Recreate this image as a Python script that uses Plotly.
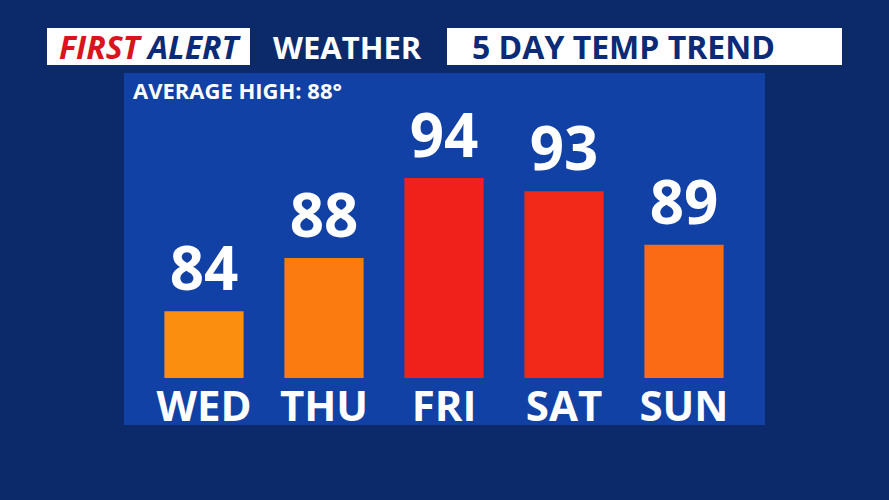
import plotly.graph_objects as go

days = ["WED", "THU", "FRI", "SAT", "SUN"]
highs = [84, 88, 94, 93, 89]
bar_colors = ["#fb8e0f", "#fb7b10", "#f0201a", "#f22818", "#fb6a15"]

W, H = 889, 500
X0, X1 = 144, 744      # plot area in pixels
YT, YB = 98, 378


def px(x):
    return (x - X0) / (X1 - X0)


def py(y):
    return (YB - y) / (YB - YT)


fig = go.Figure(go.Bar(
    x=days, y=highs, width=0.66,
    marker=dict(color=bar_colors, line=dict(width=0)),
    text=[str(v) for v in highs], textposition="outside",
    textfont=dict(family="Open Sans", size=60, color="white"),
    texttemplate="<b>%{text}</b>", cliponaxis=False,
))

shapes = [
    # blue panel
    dict(type="rect", x0=px(124), x1=px(765), y0=py(425), y1=py(73),
         fillcolor="#1241a6", line_width=0, layer="below"),
    # header boxes
    dict(type="rect", x0=px(47), x1=px(250), y0=py(65), y1=py(28),
         fillcolor="white", line_width=0),
    dict(type="rect", x0=px(447), x1=px(842), y0=py(65), y1=py(28),
         fillcolor="white", line_width=0),
]
for s in shapes:
    s.update(xref="paper", yref="paper")

annotations = [
    dict(x=px(150), y=py(47), text="<b><i><span style='color:#d8141c'>FIRST</span> ALERT</i></b>",
         font=dict(family="Open Sans", size=32, color="#0b2a78"), xanchor="center"),
    dict(x=px(347), y=py(47), text="<b>WEATHER</b>",
         font=dict(family="Open Sans", size=31, color="white"), xanchor="center"),
    dict(x=px(623), y=py(47), text="<b>5 DAY TEMP TREND</b>",
         font=dict(family="Open Sans", size=32, color="#0b2a78"), xanchor="center"),
    dict(x=px(131), y=py(90), text="<b>AVERAGE HIGH: 88°</b>",
         font=dict(family="Open Sans", size=22, color="white"), xanchor="left"),
]
for a in annotations:
    a.update(xref="paper", yref="paper", showarrow=False, yanchor="middle")

fig.update_layout(
    width=W, height=H,
    margin=dict(l=X0, r=W - X1, t=YT, b=H - YB),
    paper_bgcolor="#0c2a6a", plot_bgcolor="rgba(0,0,0,0)",
    shapes=shapes, annotations=annotations, showlegend=False,
    xaxis=dict(tickfont=dict(family="Open Sans", size=42, color="white"),
               ticklabelstandoff=0, showgrid=False, zeroline=False,
               tickprefix="<b>", ticksuffix="</b>"),
    yaxis=dict(range=[79, 100], visible=False),
)

fig.write_html("out.html", config={"displayModeBar": False},
               post_script="document.body.style.margin='0';")
